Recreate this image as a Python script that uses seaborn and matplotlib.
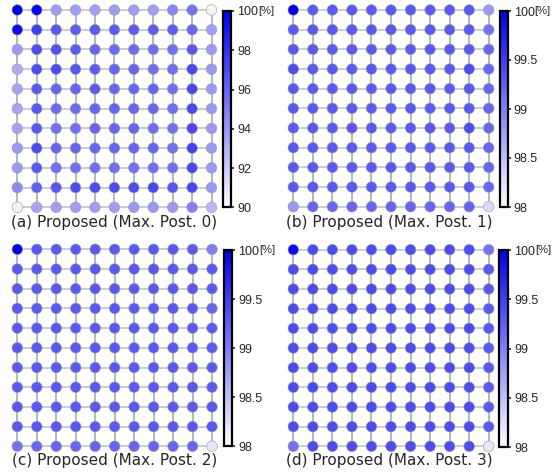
import matplotlib
matplotlib.use('Agg')
import matplotlib.pyplot as plt
import matplotlib.colors as mcolors
import numpy as np
import pandas as pd
import seaborn as sns

sns.set_style('white')

# success rate [%] per node, 11x11 grid, row 0 = top
post0 = [
    [100.0, 99.8, 93.8, 93.8, 93.8, 93.8, 93.8, 93.8, 94.8, 95.5, 90.5],
    [99.6, 97.6, 96.6, 96.4, 96.4, 96.4, 96.4, 96.4, 96.4, 96.0, 93.8],
    [94.0, 97.0, 96.8, 96.4, 96.0, 95.8, 95.8, 95.6, 95.6, 96.6, 94.0],
    [93.3, 97.0, 97.0, 96.6, 96.4, 96.0, 96.0, 95.6, 95.6, 97.2, 94.0],
    [93.6, 96.6, 96.0, 96.0, 96.4, 96.0, 96.0, 96.0, 95.6, 97.2, 94.0],
    [93.6, 96.6, 95.8, 95.8, 96.0, 96.0, 96.0, 96.0, 95.6, 97.2, 94.0],
    [93.6, 96.6, 95.6, 95.6, 96.0, 96.0, 96.0, 95.6, 95.6, 97.2, 94.0],
    [94.0, 97.0, 96.0, 96.0, 96.0, 96.0, 96.0, 96.0, 95.6, 97.4, 94.0],
    [94.0, 96.6, 95.6, 95.6, 95.6, 95.6, 95.6, 95.6, 95.6, 97.2, 94.0],
    [94.6, 96.2, 96.6, 97.0, 97.0, 97.0, 97.0, 97.2, 96.6, 97.2, 94.0],
    [90.5, 93.6, 93.8, 93.8, 93.8, 93.8, 94.0, 94.0, 94.0, 95.0, 92.8],
]
post1 = [
    [100.0, 99.3, 99.3, 99.3, 99.3, 99.3, 99.3, 99.3, 99.3, 99.3, 98.8],
    [99.3, 99.3, 99.3, 99.3, 99.3, 99.3, 99.3, 99.3, 99.3, 99.3, 99.1],
    [99.3, 99.3, 99.3, 99.3, 99.3, 99.3, 99.3, 99.3, 99.3, 99.3, 99.2],
    [99.4, 99.3, 99.3, 99.3, 99.3, 99.3, 99.3, 99.3, 99.3, 99.4, 99.2],
    [99.3, 99.3, 99.3, 99.3, 99.3, 99.3, 99.3, 99.3, 99.3, 99.3, 99.2],
    [99.3, 99.3, 99.3, 99.3, 99.3, 99.3, 99.3, 99.3, 99.3, 99.3, 99.2],
    [99.3, 99.3, 99.3, 99.3, 99.3, 99.3, 99.3, 99.3, 99.3, 99.4, 99.2],
    [99.3, 99.3, 99.3, 99.3, 99.3, 99.3, 99.3, 99.3, 99.3, 99.3, 99.2],
    [99.3, 99.3, 99.3, 99.3, 99.3, 99.3, 99.3, 99.3, 99.3, 99.3, 99.2],
    [99.3, 99.3, 99.3, 99.3, 99.3, 99.3, 99.3, 99.3, 99.3, 99.3, 99.2],
    [98.8, 99.2, 99.2, 99.2, 99.2, 99.2, 99.2, 99.2, 99.2, 99.2, 98.3],
]
post2 = [
    [100.0, 99.3, 99.3, 99.3, 99.3, 99.3, 99.3, 99.3, 99.3, 99.3, 99.0],
    [99.3, 99.3, 99.3, 99.3, 99.3, 99.3, 99.3, 99.3, 99.3, 99.3, 99.3],
    [99.3, 99.3, 99.3, 99.3, 99.3, 99.3, 99.3, 99.3, 99.3, 99.3, 99.3],
    [99.3, 99.3, 99.3, 99.3, 99.3, 99.3, 99.3, 99.3, 99.3, 99.3, 99.2],
    [99.3, 99.3, 99.3, 99.3, 99.3, 99.3, 99.3, 99.3, 99.3, 99.3, 99.3],
    [99.3, 99.3, 99.3, 99.3, 99.3, 99.3, 99.3, 99.3, 99.3, 99.3, 99.3],
    [99.3, 99.3, 99.3, 99.3, 99.3, 99.3, 99.3, 99.3, 99.3, 99.3, 99.3],
    [99.3, 99.3, 99.3, 99.3, 99.3, 99.3, 99.3, 99.3, 99.3, 99.3, 99.3],
    [99.3, 99.3, 99.3, 99.3, 99.3, 99.3, 99.3, 99.3, 99.3, 99.3, 99.3],
    [99.3, 99.3, 99.3, 99.3, 99.3, 99.3, 99.3, 99.3, 99.3, 99.3, 99.3],
    [99.1, 99.2, 99.2, 99.2, 99.2, 99.2, 99.2, 99.2, 99.2, 99.2, 98.2],
]
post3 = [
    [99.9, 99.4, 99.4, 99.4, 99.4, 99.4, 99.4, 99.4, 99.4, 99.4, 99.1],
    [99.4, 99.4, 99.4, 99.4, 99.4, 99.4, 99.4, 99.4, 99.4, 99.4, 99.3],
    [99.4, 99.4, 99.4, 99.4, 99.4, 99.4, 99.4, 99.4, 99.4, 99.4, 99.3],
    [99.4, 99.4, 99.4, 99.4, 99.4, 99.4, 99.4, 99.4, 99.4, 99.4, 99.3],
    [99.4, 99.4, 99.4, 99.4, 99.4, 99.4, 99.4, 99.4, 99.4, 99.4, 99.3],
    [99.4, 99.4, 99.4, 99.4, 99.4, 99.4, 99.4, 99.4, 99.4, 99.4, 99.3],
    [99.4, 99.4, 99.4, 99.4, 99.4, 99.4, 99.4, 99.4, 99.4, 99.4, 99.3],
    [99.4, 99.4, 99.4, 99.4, 99.4, 99.4, 99.4, 99.4, 99.4, 99.4, 99.3],
    [99.4, 99.4, 99.4, 99.4, 99.4, 99.4, 99.4, 99.4, 99.4, 99.4, 99.3],
    [99.4, 99.4, 99.4, 99.4, 99.4, 99.4, 99.4, 99.4, 99.4, 99.4, 99.3],
    [99.1, 99.4, 99.4, 99.4, 99.4, 99.4, 99.4, 99.4, 99.4, 99.4, 98.2],
]

titles = ['(a) Proposed (Max. Post. 0)', '(b) Proposed (Max. Post. 1)',
          '(c) Proposed (Max. Post. 2)', '(d) Proposed (Max. Post. 3)']
ranges = [(90, 100), (98, 100), (98, 100), (98, 100)]
ticks = [[90, 92, 94, 96, 98, 100], [98, 98.5, 99, 99.5, 100],
         [98, 98.5, 99, 99.5, 100], [98, 98.5, 99, 99.5, 100]]
ticklabels = [['90', '92', '94', '96', '98', '100'],
              ['98', '98.5', '99', '99.5', '100'],
              ['98', '98.5', '99', '99.5', '100'],
              ['98', '98.5', '99', '99.5', '100']]

# pixel layout: node grid (left, right, top, bottom), colorbar (x0, x1, y0, y1), label centre
W, H = 560, 474
grids = [(17.3, 211.5, 10, 207.3), (293.3, 488.7, 10, 206.7),
         (17.3, 212, 249.3, 446.3), (293.3, 488.7, 249.7, 446.3)]
cbars = [(222.7, 231, 11, 207.3), (499.5, 507.5, 11, 207),
         (224, 231.7, 250.3, 446.3), (499.3, 507.7, 250.3, 447)]
labels_xy = [(114, 222), (389.5, 222), (114.5, 461), (389.7, 461)]

cmap = mcolors.LinearSegmentedColormap.from_list('wb', ['#ffffff', '#0000f0'])

fig = plt.figure(figsize=(W / 100, H / 100), dpi=100)

for data, title, rng, tk, tl, g, cb, lxy in zip(
        [post0, post1, post2, post3], titles, ranges, ticks, ticklabels,
        grids, cbars, labels_xy):
    L, R, T, B = g
    sx = (R - L) / 10
    sy = (B - T) / 10
    ax = fig.add_axes([(L - sx / 2) / W, 1 - (B + sy / 2) / H, 11 * sx / W, 11 * sy / H])

    vals = np.array(data)
    n = vals.shape[0]
    rows, cols = np.mgrid[0:n, 0:n]
    df = pd.DataFrame({'col': cols.ravel(), 'row': rows.ravel(), 'val': vals.ravel()})

    for i in range(n):
        ax.plot([0, n - 1], [i, i], color='#cccccc', lw=1.4, zorder=1)
        ax.plot([i, i], [0, n - 1], color='#ababab', lw=1.2, zorder=1)

    sns.scatterplot(data=df, x='col', y='row', hue='val', palette=cmap, hue_norm=rng,
                    s=58, edgecolor='#9a9a9a', linewidth=0.4, legend=False,
                    ax=ax, zorder=3, clip_on=False)
    ax.set_xlim(-0.5, n - 0.5)
    ax.set_ylim(n - 0.5, -0.5)
    ax.axis('off')

    cax = fig.add_axes([cb[0] / W, 1 - cb[3] / H, (cb[1] - cb[0]) / W, (cb[3] - cb[2]) / H])
    sm = plt.cm.ScalarMappable(norm=mcolors.Normalize(*rng), cmap=cmap)
    cbar = fig.colorbar(sm, cax=cax, ticks=tk)
    cbar.ax.set_yticklabels(tl, fontfamily='Liberation Sans', fontsize=9)
    cbar.ax.tick_params(direction='inout', length=5, width=1.2, pad=2)
    cbar.outline.set_linewidth(1.6)
    cbar.outline.set_edgecolor('black')
    # unit right after the top tick label "100"
    cbar.ax.annotate('[%]', xy=(1.0, 1.0), xycoords='axes fraction',
                     xytext=(19.5, 0), textcoords='offset points',
                     ha='left', va='center', fontsize=8, fontfamily='Liberation Sans')

    fig.text(lxy[0] / W, 1 - lxy[1] / H, title, ha='center', va='center',
             fontsize=11, fontfamily='DejaVu Sans')

fig.savefig('out.png', dpi=100)
